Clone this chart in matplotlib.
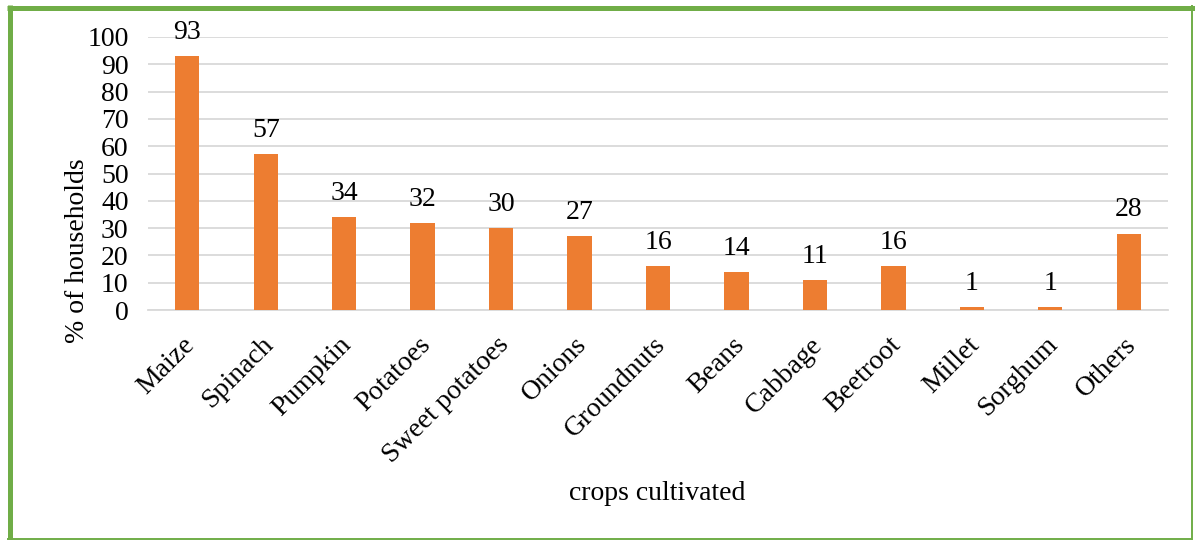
import matplotlib
matplotlib.use("Agg")
import matplotlib.pyplot as plt
from matplotlib.lines import Line2D
from matplotlib.transforms import ScaledTranslation

crops = ["Maize", "Spinach", "Pumpkin", "Potatoes", "Sweet potatoes", "Onions",
         "Groundnuts", "Beans", "Cabbage", "Beetroot", "Millet", "Sorghum", "Others"]
values = [93, 57, 34, 32, 30, 27, 16, 14, 11, 16, 1, 1, 28]
yticks = [0, 10, 20, 30, 40, 50, 60, 70, 80, 90, 100]

plt.rcParams['font.family'] = ['Liberation Serif', 'DejaVu Serif']
FS = 20

W, H = 1195, 540
fig = plt.figure(figsize=(W / 100, H / 100), dpi=100)
ax = fig.add_axes([148 / W, 1 - 310 / H, (1168 - 148) / W, (310 - 37) / H])

x = list(range(len(crops)))
ax.bar(x, values, width=0.31, color="#ED7D31", zorder=3)
ax.set_xlim(-0.5, len(crops) - 0.5)
ax.set_ylim(0, 100)
ax.set_yticks(yticks)
ax.set_yticklabels([str(t) for t in yticks], fontsize=FS)
ax.grid(axis="y", color="#D9D9D9", linewidth=1.3, zorder=0)
for s in ["top", "right", "left"]:
    ax.spines[s].set_visible(False)
ax.spines["bottom"].set_color("#D9D9D9")
ax.spines["bottom"].set_linewidth(1.3)
ax.tick_params(axis="y", length=0, pad=14)
ax.set_xticks(x)
ax.set_xticklabels(crops, rotation=45, ha="right", va="top", rotation_mode="anchor",
                   fontsize=FS)
ax.tick_params(axis="x", length=0, pad=16)
shift = ScaledTranslation(-5 / 100, 0, fig.dpi_scale_trans)
for lab in ax.get_xticklabels():
    lab.set_transform(lab.get_transform() + shift)

for xi, v in zip(x, values):
    ax.annotate(str(v), (xi, v), xytext=(0, 8), textcoords="offset points",
                ha="center", va="bottom", fontsize=FS)

fig.text(77 / W, 1 - 251 / H, "% of households", rotation=90, ha="center", va="center",
         fontsize=FS)
fig.text(657 / W, 1 - 494 / H, "crops cultivated", ha="center", va="center", fontsize=FS)

green = "#70AD47"
fig.add_artist(Line2D([9.5 / W, 9.5 / W], [0, 1 - 5 / H], transform=fig.transFigure,
                      color=green, linewidth=3.6, solid_capstyle="butt"))
fig.add_artist(Line2D([7 / W, 1], [1 - 7.5 / H, 1 - 7.5 / H], transform=fig.transFigure,
                      color=green, linewidth=3.6, solid_capstyle="butt"))
fig.add_artist(Line2D([1192 / W, 1192 / W], [0, 1 - 5 / H], transform=fig.transFigure,
                      color=green, linewidth=1.4, solid_capstyle="butt"))
fig.add_artist(Line2D([7 / W, 1192 / W], [1.5 / H, 1.5 / H], transform=fig.transFigure,
                      color=green, linewidth=1.4, solid_capstyle="butt"))

fig.savefig("out.png", dpi=100)
